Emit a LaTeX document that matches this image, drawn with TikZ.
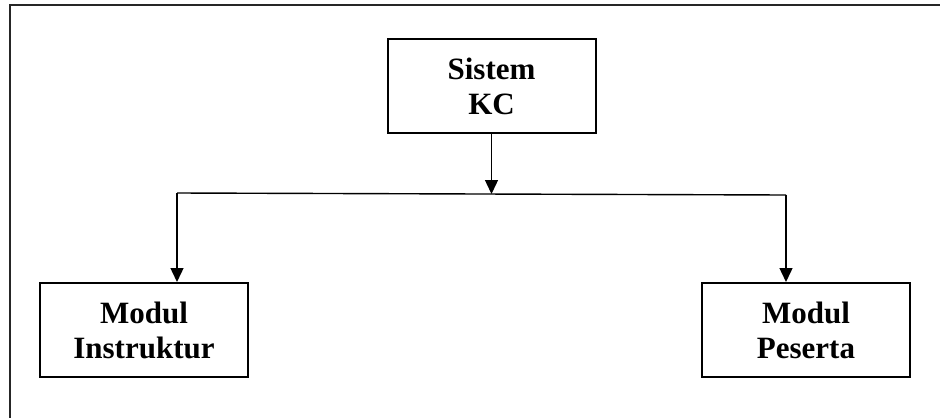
\documentclass[tikz,border=0pt]{standalone}
\usepackage{fontspec}
\setmainfont{Liberation Serif}
\usetikzlibrary{arrows.meta}
\begin{document}
\begin{tikzpicture}[x=1pt,y=-1pt,
  modbox/.style={draw,line width=2pt,minimum width=208pt,minimum height=94pt,
    inner sep=0pt,align=center,font=\fontsize{31}{35}\selectfont\bfseries},
  link/.style={line width=1.4pt},
  arrowlink/.style={link,-{Triangle[length=14pt,width=13pt]}}]
\useasboundingbox (0,0) rectangle (940,418);
% outer frame (top and left edges)
\draw[line width=2.2pt,black!85] (940,5) -- (10,5) -- (10,418);
% modules
\node[modbox] (kc)  at (491.5,86)  {Sistem\\KC};
\node[modbox] (ins) at (144,330)   {Modul\\Instruktur};
\node[modbox] (pes) at (806,330)   {Modul\\Peserta};
% distribution bar
\coordinate (barL) at (177,193);
\coordinate (barM) at (491.5,194);
\coordinate (barR) at (786,195);
\draw[link] (barL) -- (barR);
\draw[arrowlink] (kc.south) -- (barM);
\draw[arrowlink] (barL) -- (barL |- ins.north);
\draw[arrowlink] (barR) -- (barR |- pes.north);
\end{tikzpicture}
\end{document}
